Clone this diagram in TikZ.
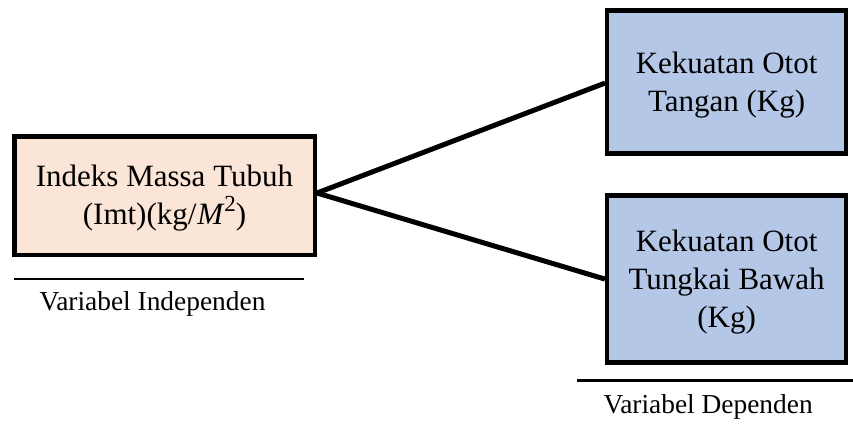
\documentclass[tikz,border=0pt]{standalone}
\usepackage{fontspec}
\setmainfont{Liberation Serif}
\definecolor{peach}{HTML}{FBE5D6}
\definecolor{paleblue}{HTML}{B4C7E7}
\newcommand{\supertwo}{\raisebox{0.42em}{\fontsize{23}{23}\selectfont 2}}
\begin{document}
\begin{tikzpicture}[x=1pt,y=-1pt,
  box/.style={draw=black, line width=4.5pt, rectangle, inner sep=0pt},
  boxtext/.style={inner sep=0pt, align=center, font=\fontsize{31}{38}\selectfont, yshift=-3pt},
  link/.style={draw=black, line width=5pt},
  rule/.style={draw=black, line width=2.7pt},
  caption/.style={anchor=base west, inner sep=0pt, font=\fontsize{27.4}{32}\selectfont}
]
\useasboundingbox (0,0) rectangle (853,423);
\node[box, fill=peach, minimum width=300.5pt, minimum height=118.5pt,
  label={[boxtext]center:{Indeks Massa Tubuh\\(Imt)(kg/\kern1pt{\itshape M}\kern1pt\supertwo)}}] (lb) at (164.5,195.5) {};
\node[box, fill=paleblue, minimum width=238.75pt, minimum height=143.25pt,
  label={[boxtext]center:{Kekuatan Otot\\Tangan (Kg)}}] (b1) at (726.6,82.1) {};
\node[box, fill=paleblue, minimum width=238.75pt, minimum height=167.25pt,
  label={[boxtext]center:{Kekuatan Otot\\Tungkai Bawah\\(Kg)}}] (b2) at (726.6,279.1) {};
\draw[link] ([yshift=2.5pt]lb.east) -- ([yshift=-1pt]b1.west);
\draw[link] ([yshift=2.5pt]lb.east) -- (b2.west);
\coordinate (l1a) at (14,279);
\coordinate (l1b) at (304.3,279);
\coordinate (l2a) at (577,380.7);
\coordinate (l2b) at (853,380.7);
\draw[rule] (l1a) -- (l1b);
\draw[rule] (l2a) -- (l2b);
\node[caption] (cap1) at (39.3,310.7) {Variabel Independen};
\node[caption] (cap2) at (603.3,413.3) {Variabel Dependen};
\end{tikzpicture}
\end{document}
